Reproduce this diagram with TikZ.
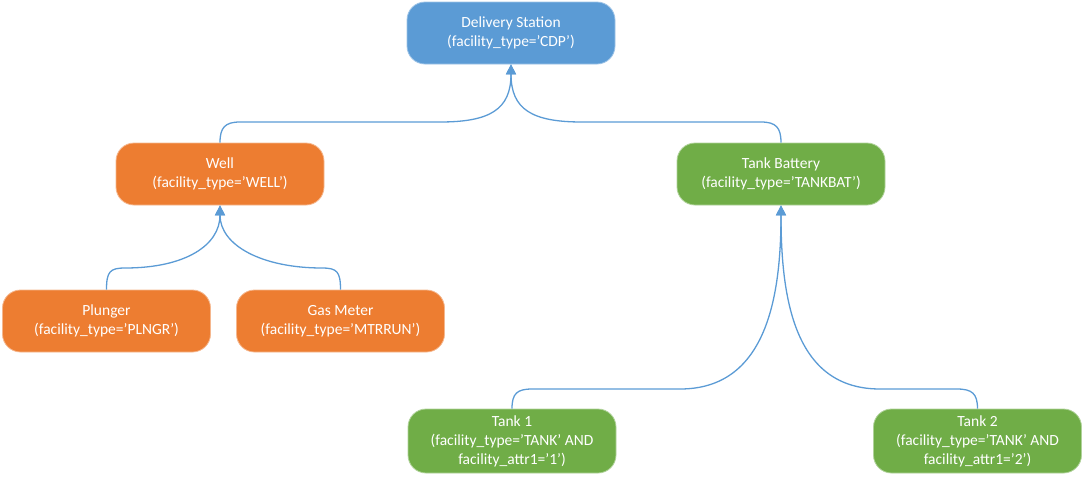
\documentclass[tikz,border=0pt]{standalone}
\usepackage{fontspec}
\setmainfont{Carlito}
\usetikzlibrary{arrows.meta}
\definecolor{cblue}{HTML}{5B9BD5}
\definecolor{corange}{HTML}{ED7D31}
\definecolor{cgreen}{HTML}{70AD47}
\definecolor{cline}{HTML}{5B9BD5}
\tikzset{
  box/.style={rounded corners=18pt, minimum width=208pt, minimum height=62pt,
    text=white, align=center, font=\fontsize{15.5pt}{19pt}\selectfont, line width=0.8pt, inner sep=0pt},
  bluebox/.style={box, fill=cblue, draw=cblue!60!white},
  orangebox/.style={box, fill=corange, draw=corange!55!white},
  greenbox/.style={box, fill=cgreen, draw=cgreen!55!white},
  conn/.style={draw=cline, line width=1.3pt, -{Triangle[length=10pt,width=10pt]}}
}
\begin{document}
\begin{tikzpicture}[x=1pt,y=-1pt]
\useasboundingbox (0,0) rectangle (1085,480);
\node[bluebox] (ds) at (511,33) {Delivery Station\\(facility\_type=’CDP’)};
\node[orangebox] (well) at (220,174) {Well\\(facility\_type=’WELL’)};
\node[greenbox] (tb) at (781,174) {Tank Battery\\(facility\_type=’TANKBAT’)};
\node[orangebox] (pl) at (106.5,321) {Plunger\\(facility\_type=’PLNGR’)};
\node[orangebox] (gm) at (340.5,321) {Gas Meter\\(facility\_type=’MTRRUN’)};
\node[greenbox, minimum height=64pt] (t1) at (512,441) {Tank 1\\(facility\_type=’TANK’ AND\\facility\_attr1=’1')};
\node[greenbox, minimum height=64pt] (t2) at (977.5,441) {Tank 2\\(facility\_type=’TANK’ AND\\facility\_attr1=’2')};

\draw[conn] (well.north) .. controls +(0,-15) and +(-15,0) .. (240,122) -- (440,122)
  .. controls +(50,0) and +(0,45) .. (ds.south);
\draw[conn] (tb.north) .. controls +(0,-15) and +(15,0) .. (761,122) -- (582,122)
  .. controls +(-50,0) and +(0,45) .. (ds.south);
\draw[conn] (pl.north) .. controls +(0,-18) and +(-15,0) .. (125,268)
  .. controls +(60,0) and +(0,40) .. (well.south);
\draw[conn] (gm.north) .. controls +(0,-18) and +(15,0) .. (322,268)
  .. controls +(-60,0) and +(0,40) .. (well.south);
\draw[conn] (t1.north) .. controls +(0,-15) and +(-15,0) .. (532,389) -- (680,389)
  .. controls +(85,0) and +(0,95) .. (tb.south);
\draw[conn] (t2.north) .. controls +(0,-15) and +(15,0) .. (957,389) -- (880,389)
  .. controls +(-85,0) and +(0,95) .. (tb.south);
\end{tikzpicture}
\end{document}
